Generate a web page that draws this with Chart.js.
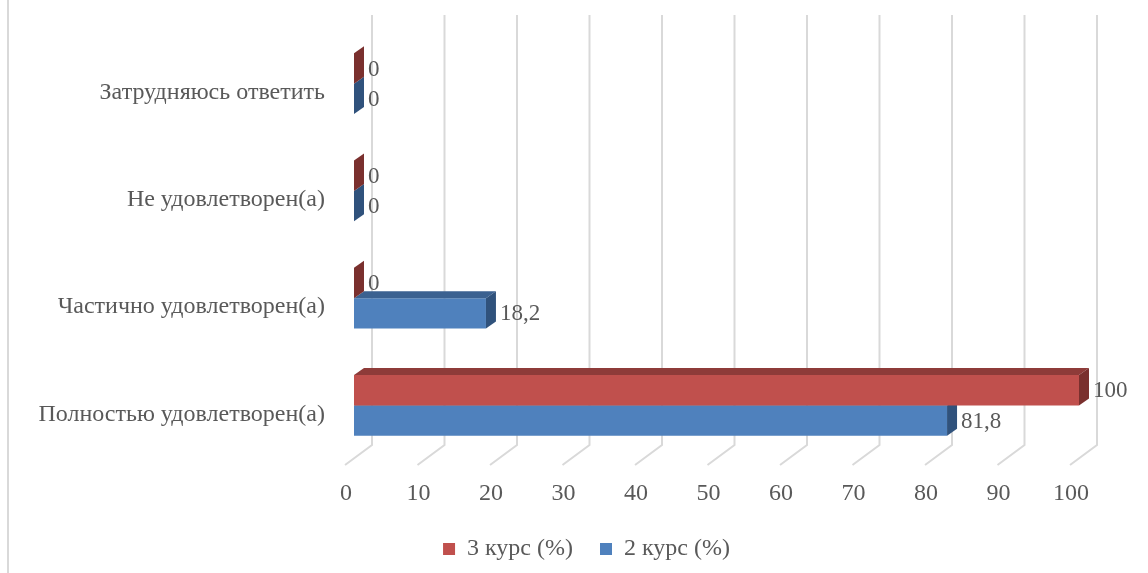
<!DOCTYPE html>
<html>
<head>
<meta charset="utf-8">
<script src="https://cdn.jsdelivr.net/npm/chart.js@4.4.0/dist/chart.umd.min.js"></script>
<style>
  html, body { margin: 0; padding: 0; background: #ffffff; }
  #wrap { width: 1148px; height: 573px; position: relative; }
</style>
</head>
<body>
<div id="wrap"><canvas id="c" width="1148" height="573"></canvas></div>
<script>
// Survey answers, listed top to bottom
const categories = [
  'Затрудняюсь ответить',
  'Не удовлетворен(а)',
  'Частично удовлетворен(а)',
  'Полностью удовлетворен(а)'
];
const course3 = [0, 0, 0, 100];
const course2 = [0, 0, 18.2, 81.8];
const seriesNames = ['3 курс (%)', '2 курс (%)'];
const xTickValues = [0, 10, 20, 30, 40, 50, 60, 70, 80, 90, 100];

const TEXT = '#595959';
const FAMILY = "'Liberation Serif', 'Times New Roman', serif";
const FONT = { family: FAMILY, size: 24 };
const LABEL_SIZE = 23;

// face colours for the pseudo-3D bars: front, top, side
const faces = [
  { front: '#C0504D', top: '#8E3B39', side: '#7A302E' },
  { front: '#4F81BD', top: '#3B6190', side: '#30527C' }
];
const DX = 10, DY = 7;          // bar depth offset
const WALL_DX = 18, WALL_TOP = 15, WALL_BOTTOM = 445;  // back wall
const FLOOR_DX = -9, FLOOR_Y = 465;                   // front edge of floor
const AXIS_EDGE = 354;          // left edge of the plot area
const LEGEND_SHIFT = 47;        // legend sits centred on the whole figure

const fmt = v => String(v).replace('.', ',');

const depth3d = {
  id: 'depth3d',
  afterLayout(chart) {
    // centre the legend on the full canvas rather than the padded box
    chart.legend.left += LEGEND_SHIFT;
    chart.legend.right += LEGEND_SHIFT;
  },
  beforeDraw(chart) {
    const ctx = chart.ctx;
    ctx.save();
    ctx.strokeStyle = '#d9d9d9';
    ctx.lineWidth = 2;
    ctx.beginPath();
    ctx.moveTo(8, 0);
    ctx.lineTo(8, chart.height);
    ctx.stroke();
    ctx.restore();
  },
  beforeDatasetsDraw(chart) {
    const ctx = chart.ctx;
    const xs = chart.scales.x;
    ctx.save();
    ctx.strokeStyle = '#d9d9d9';
    ctx.lineWidth = 2;
    xTickValues.forEach(v => {
      const px = xs.getPixelForValue(v);
      ctx.beginPath();
      ctx.moveTo(px + WALL_DX, WALL_TOP);
      ctx.lineTo(px + WALL_DX, WALL_BOTTOM);
      ctx.lineTo(px + FLOOR_DX, FLOOR_Y);
      ctx.stroke();
    });
    ctx.restore();
  },
  afterDatasetDraw(chart, args) {
    const ctx = chart.ctx;
    const f = faces[args.index];
    ctx.save();
    args.meta.data.forEach(el => {
      const { x, y, base, height } = el.getProps(['x', 'y', 'base', 'height'], true);
      const top = y - height / 2, bottom = y + height / 2;
      // top face
      ctx.fillStyle = f.top;
      ctx.beginPath();
      ctx.moveTo(base, top);
      ctx.lineTo(x, top);
      ctx.lineTo(x + DX, top - DY);
      ctx.lineTo(base + DX, top - DY);
      ctx.closePath();
      ctx.fill();
      // side face
      ctx.fillStyle = f.side;
      ctx.beginPath();
      ctx.moveTo(x, top);
      ctx.lineTo(x + DX, top - DY);
      ctx.lineTo(x + DX, bottom - DY);
      ctx.lineTo(x, bottom);
      ctx.closePath();
      ctx.fill();
    });
    ctx.restore();
  },
  afterDatasetsDraw(chart) {
    const ctx = chart.ctx;
    ctx.save();
    ctx.fillStyle = TEXT;
    ctx.font = LABEL_SIZE + 'px ' + FAMILY;
    ctx.textAlign = 'left';
    ctx.textBaseline = 'middle';
    chart.data.datasets.forEach((ds, i) => {
      const meta = chart.getDatasetMeta(i);
      meta.data.forEach((el, j) => {
        ctx.fillText(fmt(ds.data[j]), el.x + 14, el.y + 1);
      });
    });
    ctx.restore();
  }
};

new Chart(document.getElementById('c'), {
  type: 'bar',
  data: {
    labels: categories,
    datasets: [
      { label: seriesNames[0], data: course3, backgroundColor: faces[0].front, borderWidth: 0 },
      { label: seriesNames[1], data: course2, backgroundColor: faces[1].front, borderWidth: 0 }
    ]
  },
  options: {
    responsive: false,
    animation: false,
    indexAxis: 'y',
    layout: { padding: { top: 30, right: 69, bottom: 2, left: 0 } },
    datasets: { bar: { categoryPercentage: 0.565, barPercentage: 1 } },
    scales: {
      x: {
        min: 0, max: 100,
        afterBuildTicks(s) { s.ticks = xTickValues.map(v => ({ value: v })); },
        ticks: { color: TEXT, font: FONT, labelOffset: -8, padding: 20, maxRotation: 0 },
        grid: { display: false, drawTicks: false },
        border: { display: false },
        afterFit(s) { s.height = 51; s.paddingLeft = 0; s.paddingRight = 0; }
      },
      y: {
        ticks: { color: TEXT, font: FONT, labelOffset: 9, padding: 29 },
        grid: { display: false, drawTicks: false },
        border: { display: false },
        afterFit(s) { s.width = AXIS_EDGE; s.paddingTop = 0; s.paddingBottom = 0; }
      }
    },
    plugins: {
      legend: {
        position: 'bottom',
        labels: { boxWidth: 12, boxHeight: 12, padding: 27, color: TEXT, font: FONT }
      },
      tooltip: { enabled: false }
    }
  },
  plugins: [depth3d]
});
</script>
</body>
</html>
